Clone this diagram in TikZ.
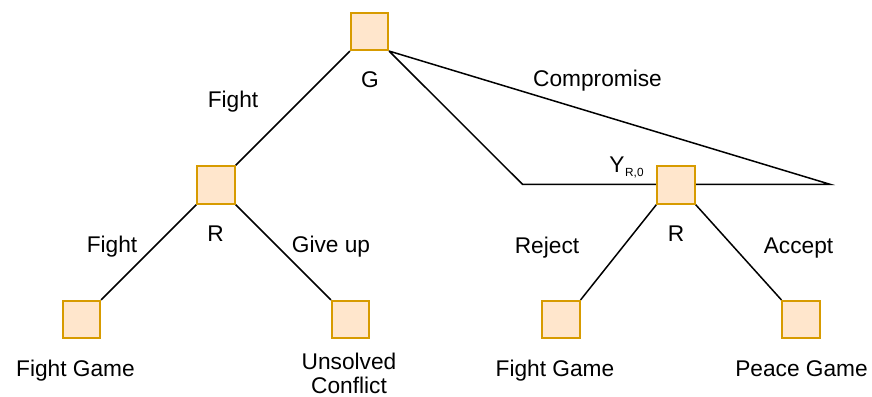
\documentclass[tikz,border=0pt]{standalone}
\usepackage{fontspec}
\setmainfont{Liberation Sans}
\usetikzlibrary{backgrounds}
\definecolor{boxfill}{HTML}{FFE6CC}
\definecolor{boxline}{HTML}{D79B00}
\begin{document}
\begin{tikzpicture}[x=1pt,y=-1pt,
  decision/.style={draw=boxline,fill=boxfill,line width=1.6pt,minimum size=37.5pt,inner sep=0pt},
  edge/.style={draw=black,line width=1.5pt},
  lbl/.style={font=\fontsize{22.7}{24.3}\selectfont,anchor=base,inner sep=0pt,align=center},
  sublbl/.style={font=\fontsize{11.8}{13}\selectfont,anchor=base west,inner sep=0pt}]
\useasboundingbox (0,0) rectangle (872,396);

% decision nodes
\node[decision] (G)  at (369.5,31.5) {};
\node[decision] (R1) at (216,185) {};
\node[decision] (R2) at (676,185) {};
\node[decision] (L1) at (81.5,319.5) {};
\node[decision] (L2) at (350.5,319.5) {};
\node[decision] (L3) at (561,319.5) {};
\node[decision] (L4) at (801,319.5) {};

% ends of the compromise bar
\coordinate (barL) at (522.5,184.3);
\coordinate (barR) at (830,184.3);

% branches
\begin{scope}[on background layer]
\draw[edge] (G.south west) -- (R1.north east);
\draw[edge] (G.south east) -- (barL) -- (barR) -- (G.south east);
\draw[edge] (R1.south west) -- (L1.north east);
\draw[edge] (R1.south east) -- (L2.north west);
\draw[edge] (R2.south west) -- (L3.north east);
\draw[edge] (R2.south east) -- (L4.north west);
\end{scope}

% player labels
\node[lbl] (tG)  at (370,88) {G};
\node[lbl] (tR1) at (215.5,241.7) {R};
\node[lbl] (tR2) at (676,241.7) {R};

% action labels
\node[lbl] (aFight)  at (233,107) {Fight};
\node[lbl] (aComp)   at (597.5,86.7) {Compromise};
\node[lbl] (aFight2) at (112,252.5) {Fight};
\node[lbl] (aGive)   at (331,252.5) {Give up};
\node[lbl] (aRej)    at (547,253) {Reject};
\node[lbl] (aAcc)    at (798.5,253) {Accept};

% offer label
\node[lbl,anchor=base east] (tY) at (624.8,172.7) {Y};
\node[sublbl] (tYs) at (625,176) {R,0};

% outcome labels
\node[lbl] (oL1) at (75.5,376) {Fight Game};
\node[lbl] (oL2) at (349,393.3) {Unsolved\\Conflict};
\node[lbl] (oL3) at (555,376) {Fight Game};
\node[lbl] (oL4) at (801.5,376) {Peace Game};
\end{tikzpicture}
\end{document}
